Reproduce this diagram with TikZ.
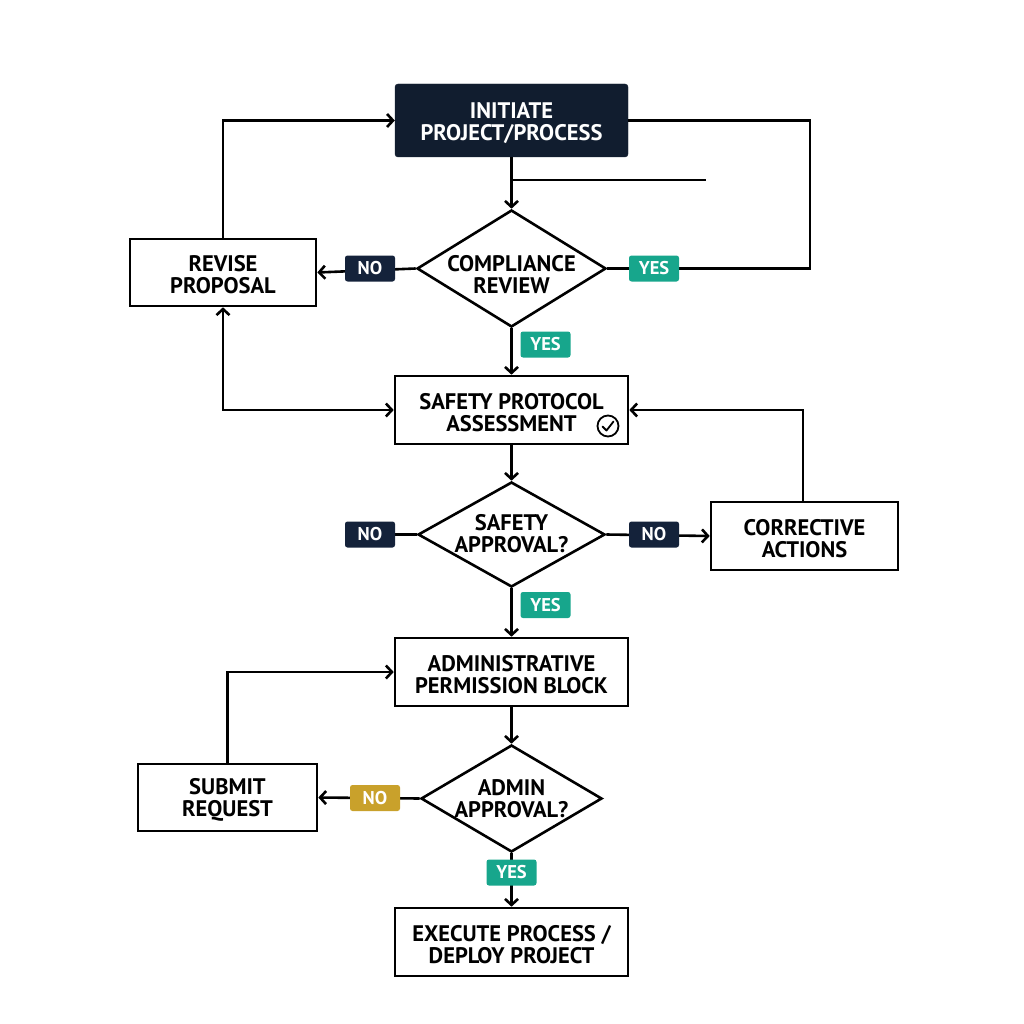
\documentclass[tikz,border=0pt]{standalone}
\usepackage{fontspec}
\setmainfont{PT Sans}
\usetikzlibrary{shapes.geometric,arrows.meta}
\definecolor{navy}{HTML}{111D2F}
\definecolor{tagdark}{HTML}{14223A}
\definecolor{tealc}{HTML}{17A68C}
\definecolor{goldc}{HTML}{C9A12B}
\begin{document}
\begin{tikzpicture}[x=1pt,y=-1pt,
  conn/.style={line width=2.6pt},
  arr/.style={conn,-{Straight Barb[length=6pt,width=13pt,line width=2.6pt]}},
  darr/.style={conn,{Straight Barb[length=6pt,width=13pt,line width=2.6pt]}-{Straight Barb[length=6pt,width=13pt,line width=2.6pt]}},
  boxtxt/.style={font=\fontsize{22.5}{22}\selectfont\bfseries, align=center},
  procbox/.style={draw, line width=2.6pt, fill=white, minimum width=#1, minimum height=68pt, inner sep=0pt, boxtxt, text height=42.5pt},
  startbox/.style={fill=navy, draw=navy, rounded corners=3pt, minimum width=233pt, minimum height=73pt, inner sep=0pt, boxtxt, text=white, text height=43.5pt},
  decision/.style n args={2}{draw, diamond, line width=2.6pt, fill=white, minimum width=#1, minimum height=#2, inner sep=0pt},
  tag/.style={fill=#1, rounded corners=2.5pt, minimum width=50pt, minimum height=26pt, inner sep=0pt, text=white, font=\fontsize{18.5}{18}\selectfont\bfseries},
]
\useasboundingbox (0,0) rectangle (1024,1024);

% nodes
\node[startbox] (init) at (511.5,120.5) {INITIATE\\PROJECT/PROCESS};
\node[decision={189pt}{117pt}] (comp) at (511.5,268.5) {};
\node[boxtxt] at ([yshift=-6pt]comp.center) {COMPLIANCE\\REVIEW};
\node[procbox=186pt, minimum height=67pt] (revise) at (223,272.5) {REVISE\\PROPOSAL};
\node[procbox=233pt] (safety) at (511.5,410) {SAFETY PROTOCOL\\ASSESSMENT};
\node[decision={187pt}{105pt}] (sapp) at (511.5,534.5) {};
\node[boxtxt] at ([yshift=1pt]sapp.center) {SAFETY\\APPROVAL?};
\node[procbox=187pt] (corr) at (804.5,536) {CORRECTIVE\\ACTIONS};
\node[procbox=233pt] (admin) at (511.5,672) {ADMINISTRATIVE\\PERMISSION BLOCK};
\node[decision={181pt}{107pt}] (aapp) at (511.5,798.5) {};
\node[boxtxt] at ([yshift=0pt]aapp.center) {ADMIN\\APPROVAL?};
\node[procbox=179pt, minimum height=67pt] (submit) at (227.5,797.5) {SUBMIT\\REQUEST};
\node[procbox=233pt] (exec) at (511.5,942) {EXECUTE PROCESS /\\DEPLOY PROJECT};

% check icon
\node[circle, draw, line width=1.8pt, minimum size=21pt, inner sep=0pt] (chk) at (608,426) {};
\draw[line width=1.8pt, line cap=round, line join=round] ([shift={(-5.5,0.5)}]chk.center) -- ([shift={(-1.5,4.5)}]chk.center) -- ([shift={(5.5,-4.5)}]chk.center);

% coordinates
\coordinate (stray) at (706,180);
\coordinate (rtop) at (810,120.5);
\coordinate (ctop) at (803,410);

% connectors
\draw[arr] (init.south) -- (comp.north);
\draw[conn] (init.south |- stray) -- (stray);
\draw[conn] (init.east) -- (rtop) |- (comp.east);
\draw[arr] (comp.west) -- (revise.east);
\draw[arr] (revise.north) |- (init.west);
\draw[arr] (comp.south) -- (safety.north);
\draw[darr] (revise.south) |- (safety.west);
\draw[arr] (safety.south) -- (sapp.north);
\draw[arr] (sapp.east) -- (corr.west);
\draw[conn] (sapp.west) -- (345,534.5);
\draw[arr] (corr.north -| ctop) |- (safety.east);
\draw[arr] (sapp.south) -- (admin.north);
\draw[arr] (admin.south) -- (aapp.north);
\draw[arr] (aapp.west) -- (submit.east);
\draw[arr] (submit.north) |- (admin.west);
\draw[arr] (aapp.south) -- (exec.north);

% tags
\node[tag=tagdark] (no1) at (370,268.5) {NO};
\node[tag=tealc] (yes1) at (654,268.5) {YES};
\node[tag=tealc] (yes2) at (545.5,344.5) {YES};
\node[tag=tagdark] (no2) at (370,534.5) {NO};
\node[tag=tagdark] (no3) at (654,534.5) {NO};
\node[tag=tealc] (yes3) at (545.5,605) {YES};
\node[tag=goldc] (no4) at (375,798) {NO};
\node[tag=tealc] (yes4) at (511.5,872.5) {YES};
\end{tikzpicture}
\end{document}
